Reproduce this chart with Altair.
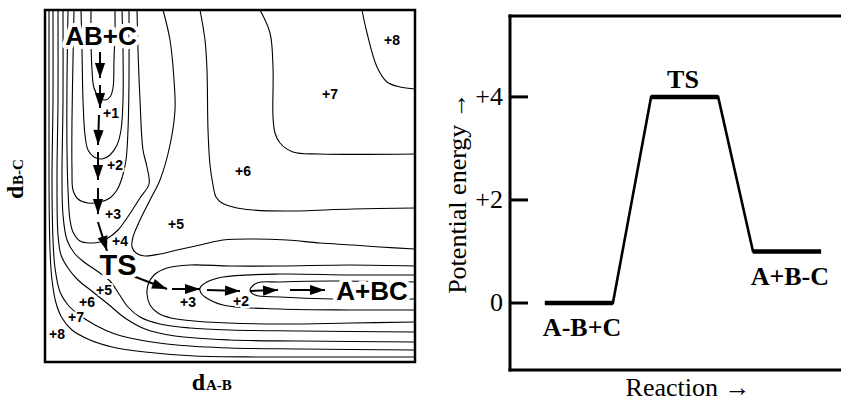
import math
import altair as alt
import pandas as pd

# ---------------- LEFT PANEL: potential-energy contour map ----------------
# axis units (d_A-B horizontally, d_B-C vertically)
LX_DOMAIN = [0, 370]
LY_DOMAIN = [0, 352]

contour_names = [
    "+1 AB+C", "+2 AB+C", "+3 AB+C", "+4 AB+C",
    "+5 ridge", "+6 ridge", "+7 ridge", "+8 ridge",
    "+4 A+BC", "+3 A+BC", "+2 A+BC",
    "+5 wall", "+6 wall", "+7 wall", "+8 wall",
]
contour_xs = [
    [46, 46, 47, 49, 54, 60, 65, 68, 69, 70, 70],
    [36, 37, 38, 40, 43, 49, 57, 65, 72, 76, 78, 78, 77],
    [29, 28, 27, 27, 28, 33, 43, 55, 65, 72, 77, 81, 83, 84, 84],
    [23, 22, 22, 23, 25, 28, 35, 45, 55, 63, 73, 82, 95, 104, 102, 98, 95, 93, 92],
    [118, 125, 129, 130, 125, 115, 105, 95, 88, 87, 91, 100, 115, 132, 155, 178, 208, 242, 275, 308, 335, 370],
    [155, 160, 162, 163, 165, 168, 171, 177, 188, 208, 242, 308, 370],
    [215, 225, 228, 228, 230, 235, 248, 275, 370],
    [317, 322, 332, 342, 355, 370],
    [370, 305, 235, 185, 145, 122, 109, 103, 102, 105, 113, 126, 162, 235, 305, 370],
    [370, 305, 235, 178, 162, 155, 156, 160, 178, 235, 305, 370],
    [370, 288, 235, 212, 205, 210, 235, 288, 370],
    [18, 18, 17, 18, 22, 30, 39, 52, 65, 74, 83, 95, 115, 145, 185, 255, 370],
    [13, 13, 12, 13, 16, 23, 33, 48, 63, 80, 100, 130, 185, 255, 370],
    [8, 8, 7, 8, 10, 15, 23, 33, 50, 70, 95, 132, 185, 255, 370],
    [4, 4, 4, 5, 7, 11, 17, 27, 45, 67, 100, 150, 215, 285, 370],
]
contour_ys = [
    [352, 322, 292, 274, 265, 262, 265, 274, 302, 332, 352],
    [352, 312, 262, 227, 212, 205, 203, 207, 217, 232, 262, 312, 352],
    [352, 302, 242, 192, 172, 163, 159, 160, 164, 172, 184, 202, 232, 282, 352],
    [352, 282, 212, 172, 142, 130, 121, 119, 120, 124, 132, 144, 164, 178, 195, 212, 262, 312, 352],
    [352, 322, 282, 252, 217, 182, 162, 142, 125, 115, 109, 106, 108, 112, 117, 122, 123, 122, 119, 117, 115, 113],
    [352, 322, 292, 232, 197, 177, 165, 159, 155, 152, 151, 153, 154],
    [352, 329, 295, 245, 229, 219, 210, 208, 208],
    [352, 329, 295, 280, 275, 273],
    [96, 97, 96, 96, 97, 94, 87, 77, 68, 57, 49, 44, 40, 38, 39, 40],
    [87, 87, 88, 85, 80, 74, 69, 65, 57, 53, 52, 52],
    [80, 81, 80, 79, 72, 67, 65, 63, 63],
    [352, 262, 182, 147, 122, 108, 100, 91, 81, 68, 55, 45, 38, 34, 32, 31, 30],
    [352, 262, 182, 127, 107, 94, 82, 70, 58, 44, 33, 26, 22, 21, 20],
    [352, 262, 182, 122, 94, 70, 57, 48, 37, 28, 22, 17, 14, 13, 12],
    [352, 262, 182, 112, 82, 59, 44, 32, 22, 15, 10, 6, 5, 5, 5],
]

# reaction-path arrows (start -> end)
arrow_x1 = [55, 55, 54, 53, 53, 53, 88, 127, 162, 205, 245]
arrow_y1 = [310, 277, 247, 210, 174, 140, 86, 73, 72, 71, 72]
arrow_x2 = [55, 55, 53, 53, 53, 62, 122, 155, 195, 233, 280]
arrow_y2 = [284, 254, 217, 182, 148, 111, 73, 73, 71, 72, 72]

# contour value labels
small_text = ["+1", "+2", "+3", "+4", "+5", "+6", "+7", "+8", "+3", "+2", "+5", "+6", "+7", "+8"]
small_x = [66, 70, 68, 75, 131, 198, 285, 347, 143, 196, 59, 42, 31, 12]
small_y = [248, 196, 147, 120, 137, 190, 267, 321, 59, 60, 71, 59, 44, 27]

# species labels
big_text = ["AB+C", "TS", "A+BC"]
big_x = [56, 73, 327]
big_y = [325, 96, 70]
big_size = [26, 29, 26]

# ---------------- RIGHT PANEL: energy profile ----------------
RX_DOMAIN = [0, 10]
RY_DOMAIN = [-1.3, 5.57]
profile_x = [1.05, 3.10, 4.25, 6.27, 7.32, 9.37]
profile_E = [0, 0, 4, 4, 1, 1]
level_x0 = [1.05, 4.25, 7.32]
level_x1 = [3.10, 6.27, 9.37]
level_E = [0, 4, 1]
level_text = ["A-B+C", "TS", "A+B-C"]
level_label_x = [2.17, 5.21, 8.43]
level_label_E = [-0.49, 4.33, 0.50]
tick_values = [0, 2, 4]
tick_labels = ["0", "+2", "+4"]

# ---------------- scales ----------------
XL = alt.Scale(domain=LX_DOMAIN, range=[45, 415], nice=False, zero=False)
YL = alt.Scale(domain=LY_DOMAIN, range=[362, 10], nice=False, zero=False)
XR = alt.Scale(domain=RX_DOMAIN, range=[510, 842], nice=False, zero=False)
YR = alt.Scale(domain=RY_DOMAIN, range=[370, 16], nice=False, zero=False)

SANS = "Liberation Sans"
SERIF = "Liberation Serif"

rows = []
for name, xs, ys in zip(contour_names, contour_xs, contour_ys):
    for i, (x, y) in enumerate(zip(xs, ys)):
        rows.append({"c": name, "o": i, "x": x, "y": y})
cdf = pd.DataFrame(rows)

contours = alt.Chart(cdf).mark_line(
    interpolate="catmull-rom", color="black", strokeWidth=1.1
).encode(
    x=alt.X("x:Q", scale=XL, axis=None),
    y=alt.Y("y:Q", scale=YL, axis=None),
    detail="c:N",
    order="o:Q",
)

lframe = alt.Chart(pd.DataFrame({
    "x0": [LX_DOMAIN[0]], "x1": [LX_DOMAIN[1]], "y0": [LY_DOMAIN[0]], "y1": [LY_DOMAIN[1]]
})).mark_rect(filled=False, stroke="black", strokeWidth=2.5).encode(
    x=alt.X("x0:Q", scale=XL, axis=None), x2="x1:Q",
    y=alt.Y("y0:Q", scale=YL, axis=None), y2="y1:Q",
)

sx = (415 - 45) / (LX_DOMAIN[1] - LX_DOMAIN[0])
sy = (362 - 10) / (LY_DOMAIN[1] - LY_DOMAIN[0])
adf = pd.DataFrame({"x1": arrow_x1, "y1": arrow_y1, "x2": arrow_x2, "y2": arrow_y2})
adf["ang"] = [
    (math.degrees(math.atan2(-(b2 - b1) * sy, (a2 - a1) * sx)) + 360) % 360
    for a1, b1, a2, b2 in zip(arrow_x1, arrow_y1, arrow_x2, arrow_y2)
]
stems = alt.Chart(adf).mark_rule(color="black", strokeWidth=2).encode(
    x=alt.X("x1:Q", scale=XL, axis=None), y=alt.Y("y1:Q", scale=YL, axis=None),
    x2="x2:Q", y2="y2:Q",
)
HEAD = "M0,0L-2,-0.68L-2,0.68Z"
heads = alt.Chart(adf).mark_point(
    shape=HEAD, filled=True, size=225, opacity=1, color="black", strokeWidth=0
).encode(
    x=alt.X("x2:Q", scale=XL, axis=None), y=alt.Y("y2:Q", scale=YL, axis=None),
    angle=alt.Angle("ang:Q", scale=None),
)


def label_layers(df, xs, ys, font, weight, size_field=None, size=14, halo=4):
    base = alt.Chart(df)
    enc = dict(
        x=alt.X("x:Q", scale=xs, axis=None),
        y=alt.Y("y:Q", scale=ys, axis=None),
        text="t:N",
    )
    if size_field:
        enc["size"] = alt.Size(size_field, scale=None, legend=None)
    halo_l = base.mark_text(
        font=font, fontWeight=weight, fontSize=size, align="center", baseline="middle",
        color="white", stroke="white", strokeWidth=halo, strokeJoin="round",
    ).encode(**enc)
    txt = base.mark_text(
        font=font, fontWeight=weight, fontSize=size, align="center", baseline="middle",
        color="black",
    ).encode(**enc)
    return [halo_l, txt]


sdf = pd.DataFrame({"t": small_text, "x": small_x, "y": small_y})
bdf = pd.DataFrame({"t": big_text, "x": big_x, "y": big_y, "s": big_size})

small_labels = label_layers(sdf, XL, YL, SANS, "bold", size=14, halo=4)
big_labels = label_layers(bdf, XL, YL, SANS, "bold", size_field="s:Q", halo=8)

# axis titles of the map: "d" with small A-B / B-C
one = pd.DataFrame({"t": ["d"]})
d_x = alt.Chart(one).mark_text(font=SERIF, fontWeight="bold", fontSize=24, align="right",
                               baseline="alphabetic").encode(text="t:N", x=alt.value(205), y=alt.value(390))
ab_x = alt.Chart(pd.DataFrame({"t": ["A-B"]})).mark_text(
    font=SERIF, fontWeight="bold", fontSize=15, align="left", baseline="alphabetic"
).encode(text="t:N", x=alt.value(206), y=alt.value(390))
d_y = alt.Chart(one).mark_text(font=SERIF, fontWeight="bold", fontSize=24, align="left",
                               baseline="alphabetic", angle=270).encode(text="t:N", x=alt.value(22.5), y=alt.value(199))
bc_y = alt.Chart(pd.DataFrame({"t": ["B-C"]})).mark_text(
    font=SERIF, fontWeight="bold", fontSize=15, align="left", baseline="alphabetic", angle=270
).encode(text="t:N", x=alt.value(22.5), y=alt.value(185))

# ---------------- right panel layers ----------------
rframe = alt.Chart(pd.DataFrame({
    "x": [RX_DOMAIN[0], RX_DOMAIN[0], RX_DOMAIN[0]],
    "x2": [RX_DOMAIN[1], RX_DOMAIN[1], RX_DOMAIN[0]],
    "y": [RY_DOMAIN[1], RY_DOMAIN[0], RY_DOMAIN[0]],
    "y2": [RY_DOMAIN[1], RY_DOMAIN[0], RY_DOMAIN[1]],
})).mark_rule(color="black", strokeWidth=3, strokeCap="square").encode(
    x=alt.X("x:Q", scale=XR, axis=None), x2="x2:Q",
    y=alt.Y("y:Q", scale=YR, axis=None), y2="y2:Q",
)

tdf = pd.DataFrame({"v": tick_values, "t": tick_labels})
ticks = alt.Chart(tdf).mark_rule(color="black", strokeWidth=3).encode(
    y=alt.Y("v:Q", scale=YR, axis=None), x=alt.value(510), x2=alt.value(528),
)
tick_text = alt.Chart(tdf).mark_text(
    font=SERIF, fontSize=26, align="right", baseline="middle", color="black"
).encode(y=alt.Y("v:Q", scale=YR, axis=None), x=alt.value(503), text="t:N")

pdf = pd.DataFrame({"x": profile_x, "E": profile_E, "o": list(range(len(profile_x)))})
profile = alt.Chart(pdf).mark_line(color="black", strokeWidth=2.6, strokeJoin="miter").encode(
    x=alt.X("x:Q", scale=XR, axis=None), y=alt.Y("E:Q", scale=YR, axis=None), order="o:Q",
)
ldf = pd.DataFrame({"x0": level_x0, "x1": level_x1, "E": level_E})
levels = alt.Chart(ldf).mark_rule(color="black", strokeWidth=4.5).encode(
    x=alt.X("x0:Q", scale=XR, axis=None), x2="x1:Q", y=alt.Y("E:Q", scale=YR, axis=None),
)
lldf = pd.DataFrame({"t": level_text, "x": level_label_x, "E": level_label_E})
level_labels = alt.Chart(lldf).mark_text(
    font=SERIF, fontWeight="bold", fontSize=26, align="center", baseline="middle", color="black"
).encode(x=alt.X("x:Q", scale=XR, axis=None), y=alt.Y("E:Q", scale=YR, axis=None), text="t:N")

ytitle = alt.Chart(pd.DataFrame({"t": ["Potential energy \u2192"]})).mark_text(
    font=SERIF, fontSize=26, align="center", baseline="middle", angle=270, color="black"
).encode(text="t:N", x=alt.value(458), y=alt.value(193))
xtitle = alt.Chart(pd.DataFrame({"t": ["Reaction \u2192"]})).mark_text(
    font=SERIF, fontSize=26, align="center", baseline="alphabetic", color="black"
).encode(text="t:N", x=alt.value(688), y=alt.value(396))

layers = [contours, lframe, stems, heads] + small_labels + big_labels + [
    d_x, ab_x, d_y, bc_y, rframe, ticks, tick_text, profile, levels, level_labels, ytitle, xtitle
]

chart = alt.layer(*layers).resolve_scale(
    x="independent", y="independent", size="independent"
).properties(
    width=841, height=401, autosize=alt.AutoSizeParams(type="none"), padding=0,
    background="white",
).configure_view(strokeWidth=0)

chart.save("out.html", embed_options={"renderer": "svg", "actions": False})
